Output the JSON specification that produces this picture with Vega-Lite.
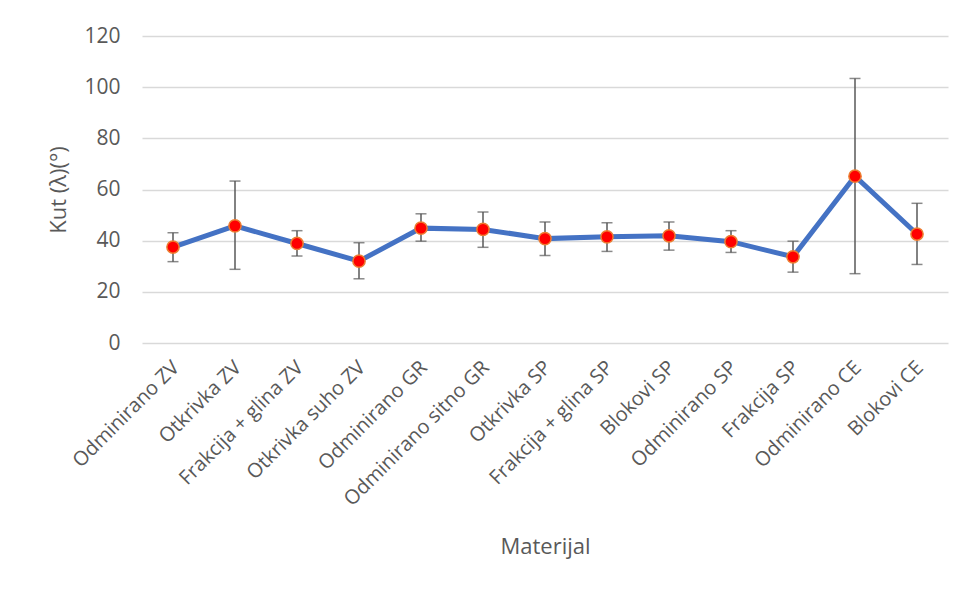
{
  "$schema": "https://vega.github.io/schema/vega-lite/v6.json",
  "width": 806,
  "height": 307,
  "autosize": {"type": "none"},
  "padding": {"left": 142, "top": 36, "right": 20, "bottom": 250},
  "background": "white",
  "config": {
    "font": "Open Sans",
    "view": {"stroke": null}
  },
  "data": {
    "values": [
      {"material": "Odminirano ZV", "mean": 37.5, "lo": 31.8, "hi": 43.1},
      {"material": "Otkrivka ZV", "mean": 45.8, "lo": 28.8, "hi": 63.3},
      {"material": "Frakcija + glina ZV", "mean": 38.9, "lo": 34.0, "hi": 43.9},
      {"material": "Otkrivka suho ZV", "mean": 32.0, "lo": 25.1, "hi": 39.2},
      {"material": "Odminirano GR", "mean": 44.9, "lo": 39.8, "hi": 50.5},
      {"material": "Odminirano sitno GR", "mean": 44.4, "lo": 37.4, "hi": 51.2},
      {"material": "Otkrivka SP", "mean": 40.8, "lo": 34.2, "hi": 47.3},
      {"material": "Frakcija + glina SP", "mean": 41.5, "lo": 35.8, "hi": 47.0},
      {"material": "Blokovi SP", "mean": 41.9, "lo": 36.3, "hi": 47.3},
      {"material": "Odminirano SP", "mean": 39.6, "lo": 35.4, "hi": 43.9},
      {"material": "Frakcija SP", "mean": 33.7, "lo": 27.7, "hi": 39.8},
      {"material": "Odminirano CE", "mean": 65.2, "lo": 27.1, "hi": 103.4},
      {"material": "Blokovi CE", "mean": 42.6, "lo": 30.7, "hi": 54.6}
    ]
  },
  "encoding": {
    "x": {
      "field": "material",
      "type": "nominal",
      "sort": null,
      "scale": {"paddingInner": 0, "paddingOuter": 0},
      "axis": {
        "title": "Materijal",
        "titleFontSize": 22,
        "titleFontWeight": "normal",
        "titleColor": "#595959",
        "titlePadding": 27,
        "labelAngle": -45,
        "labelFontSize": 20,
        "labelColor": "#595959",
        "labelPadding": 14,
        "labelOffset": -4,
        "labelLimit": 400,
        "ticks": false,
        "domain": false,
        "grid": false
      }
    }
  },
  "layer": [
    {
      "mark": {"type": "rule", "color": "#595959", "strokeWidth": 1.5},
      "encoding": {
        "y": {"field": "lo", "type": "quantitative"},
        "y2": {"field": "hi"}
      }
    },
    {
      "mark": {"type": "tick", "color": "#595959", "thickness": 1.5, "size": 11},
      "encoding": {"y": {"field": "lo", "type": "quantitative"}}
    },
    {
      "mark": {"type": "tick", "color": "#595959", "thickness": 1.5, "size": 11},
      "encoding": {"y": {"field": "hi", "type": "quantitative"}}
    },
    {
      "mark": {"type": "line", "color": "#4472C4", "strokeWidth": 5},
      "encoding": {
        "y": {
          "field": "mean",
          "type": "quantitative",
          "scale": {"domain": [0, 120], "nice": false},
          "axis": {
            "title": "Kut (λ)(°)",
            "titleFontSize": 22,
            "titleFontWeight": "normal",
            "titleColor": "#595959",
            "titlePadding": 13,
            "values": [0, 20, 40, 60, 80, 100, 120],
            "labelFontSize": 21,
            "labelColor": "#595959",
            "labelPadding": 22,
            "ticks": false,
            "domain": false,
            "gridColor": "#D9D9D9",
            "gridWidth": 1.5
          }
        }
      }
    },
    {
      "mark": {"type": "point", "filled": true, "fill": "#FF0000", "stroke": "#ED7D31", "strokeWidth": 1.5, "size": 150, "opacity": 1},
      "encoding": {"y": {"field": "mean", "type": "quantitative"}}
    }
  ],
  "resolve": {"scale": {"y": "shared"}}
}
